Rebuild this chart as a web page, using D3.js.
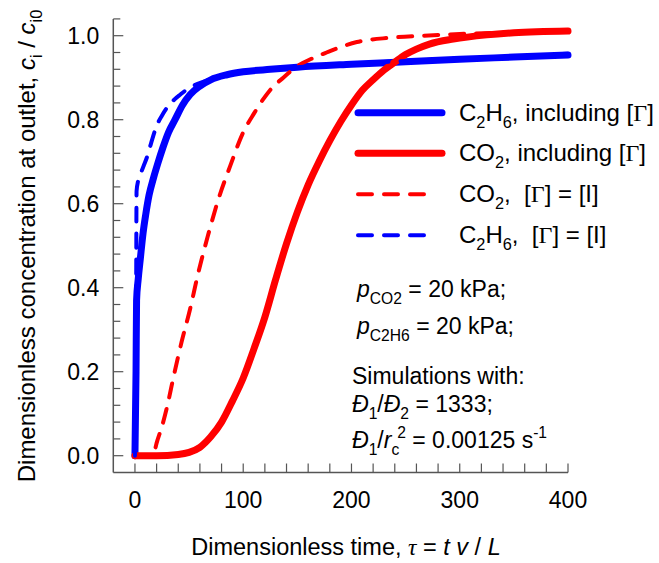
<!DOCTYPE html>
<html><head><meta charset="utf-8">
<script src="https://cdn.jsdelivr.net/npm/d3@7"></script>
<style>body{margin:0;background:#fff}svg{display:block}text{white-space:pre}</style>
</head><body>
<svg id="c" width="659" height="563"></svg>
<script>
// ---- data ----
const xMajorTicks = [0, 100, 200, 300, 400];
const xMinorTicks = d3.range(0, 401, 20);
const yMajorTicks = [0.0, 0.2, 0.4, 0.6, 0.8, 1.0];
const yMinorTicks = d3.range(0, 27).map(i => +(i * 0.04).toFixed(2));

// C2H6, including [Γ]
const c2h6FullTau = [0,1,1.5,3,5,7.5,10,13,17,21,26,31,37,44,51,60,70,85,100,125,150,200,250,300,350,400];
const c2h6FullC   = [0,0.2,0.37,0.42,0.47,0.53,0.575,0.62,0.66,0.695,0.735,0.77,0.80,0.835,0.86,0.88,0.895,0.907,0.914,0.92,0.925,0.932,0.938,0.944,0.949,0.954];
// CO2, including [Γ]
const co2FullTau = [0,20,40,50,60,70,80,90,100,110,120,130,140,150,160,170,180,190,200,210,220,230,240,250,260,272,294,325,350,400];
const co2FullC   = [0,0,0.003,0.008,0.02,0.045,0.08,0.13,0.185,0.255,0.33,0.42,0.505,0.58,0.645,0.70,0.75,0.795,0.835,0.87,0.895,0.918,0.937,0.955,0.968,0.98,0.992,1.002,1.007,1.011];
// CO2, [Γ] = [I]
const co2IdTau = [0,15,18,20,25,30,35,43,51,58,67,77,88,100,110,118,127,137,149,163,177,205,235,266,300,350,400];
const co2IdC   = [0,0,0.01,0.03,0.07,0.12,0.18,0.27,0.35,0.43,0.52,0.61,0.69,0.77,0.815,0.847,0.877,0.90,0.926,0.945,0.96,0.985,0.995,1.0,1.004,1.008,1.01];
// C2H6, [Γ] = [I]
const c2h6IdTau = [0,1,1.5,3,5,8,11,15,20,25,30,36,42,48,55,65,80,100,150,200,250,300,350,400];
const c2h6IdC   = [0,0.3,0.63,0.655,0.67,0.69,0.71,0.745,0.785,0.81,0.83,0.847,0.86,0.872,0.882,0.892,0.903,0.912,0.925,0.933,0.94,0.946,0.951,0.957];

const seriesColors = ["#0000ff", "#ff0000", "#ff0000", "#0000ff"];

// ---- layout ----
const FONT = "'Liberation Sans', Arial, sans-serif";
const SERIF = "'Liberation Serif', 'Times New Roman', serif";
const svg = d3.select("#c");
const x = d3.scaleLinear().domain([-20, 400]).range([113.3, 568]);
const y = d3.scaleLinear().domain([-0.04, 1.04]).range([472.5, 18.9]);
const axisColor = "#555";

// axes
const gx = svg.append("g").attr("transform", `translate(0,${y(-0.04)})`);
gx.append("line").attr("x1", x(-20)).attr("x2", x(400)).attr("stroke", axisColor).attr("stroke-width", 1.5);
gx.selectAll("line.t").data(xMinorTicks).join("line").attr("class","t")
  .attr("x1", d => x(d)).attr("x2", d => x(d)).attr("y1", 0).attr("y2", -9)
  .attr("stroke", axisColor).attr("stroke-width", 1.2);
gx.selectAll("text").data(xMajorTicks).join("text")
  .attr("x", d => x(d)).attr("y", 35).attr("text-anchor", "middle")
  .attr("font-family", FONT).attr("font-size", 23).attr("fill", "#000").text(d => d);

const gy = svg.append("g").attr("transform", `translate(${x(-20)},0)`);
gy.append("line").attr("y1", y(-0.04)).attr("y2", y(1.04)).attr("stroke", axisColor).attr("stroke-width", 1.5);
gy.selectAll("line.t").data(yMinorTicks).join("line").attr("class","t")
  .attr("y1", d => y(d)).attr("y2", d => y(d)).attr("x1", 0)
  .attr("x2", d => yMajorTicks.some(m => Math.abs(m - d) < 1e-6) ? 10 : 7)
  .attr("stroke", axisColor).attr("stroke-width", 1.2);
gy.selectAll("text").data(yMajorTicks).join("text")
  .attr("x", -14).attr("y", d => y(d)).attr("dy", "0.35em").attr("text-anchor", "end")
  .attr("font-family", FONT).attr("font-size", 23).attr("fill", "#000").text(d => d.toFixed(1));

// rich text helper
function rich(sel, parts, size) {
  let off = 0;
  parts.forEach(p => {
    const t = sel.append("tspan").text(p.t);
    let target = 0, fs = size;
    if (p.sub) { target = size * 0.3; fs = size * 0.68; }
    if (p.sup) { target = -size * 0.42; fs = size * 0.68; }
    if (target - off !== 0) t.attr("dy", target - off);
    off = target;
    t.attr("font-size", fs);
    if (p.dx) t.attr("dx", p.dx);
    if (p.i) t.attr("font-style", "italic");
    if (p.serif) t.attr("font-family", SERIF);
  });
}

// curves
const line = d3.line().x(d => x(d[0])).y(d => y(d[1])).curve(d3.curveMonotoneX);
const zipS = (a, b) => a.map((v, i) => [v, b[i]]);
const plotData = [
  {pts: zipS(c2h6FullTau, c2h6FullC), color: seriesColors[0], w: 7, dash: null},
  {pts: zipS(co2FullTau, co2FullC), color: seriesColors[1], w: 7, dash: null},
  {pts: zipS(co2IdTau, co2IdC), color: seriesColors[2], w: 4, dash: "14,12"},
  {pts: zipS(c2h6IdTau, c2h6IdC), color: seriesColors[3], w: 4, dash: "14,12"},
];
svg.append("g").selectAll("path").data(plotData).join("path")
  .attr("d", d => line(d.pts)).attr("fill", "none")
  .attr("stroke", d => d.color).attr("stroke-width", d => d.w)
  .attr("stroke-linecap", "round").attr("stroke-linejoin", "round")
  .attr("stroke-dasharray", d => d.dash);

// legend
const legendRows = [
  {y: 112.7, color: seriesColors[0], w: 7, dash: null, x2: 442,
   parts: [{t:"C"},{t:"2",sub:true},{t:"H"},{t:"6",sub:true},{t:", including ["},{t:"Γ",serif:true},{t:"]"}]},
  {y: 153.3, color: seriesColors[1], w: 7, dash: null, x2: 442,
   parts: [{t:"CO"},{t:"2",sub:true},{t:", including ["},{t:"Γ",serif:true},{t:"]"}]},
  {y: 194.3, color: seriesColors[2], w: 4, dash: "14,12", x2: 430,
   parts: [{t:"CO"},{t:"2",sub:true},{t:",  ["},{t:"Γ",serif:true},{t:"] = [I]"}]},
  {y: 235.3, color: seriesColors[3], w: 4, dash: "14,12", x2: 430,
   parts: [{t:"C"},{t:"2",sub:true},{t:"H"},{t:"6",sub:true},{t:",  ["},{t:"Γ",serif:true},{t:"] = [I]"}]},
];
const lg = svg.append("g");
legendRows.forEach(r => {
  lg.append("line").attr("x1", 358).attr("x2", r.x2).attr("y1", r.y).attr("y2", r.y)
    .attr("stroke", r.color).attr("stroke-width", r.w).attr("stroke-linecap", "round")
    .attr("stroke-dasharray", r.dash);
  const t = lg.append("text").attr("x", 459).attr("y", r.y + 7.8)
    .attr("font-family", FONT).attr("font-size", 24).attr("fill", "#000");
  rich(t, r.parts, 24);
});

// annotations
const notes = [
  {x: 357, y: 297, parts: [{t:"p",i:true},{t:"CO2",sub:true},{t:" = 20 kPa;"}]},
  {x: 357, y: 334, parts: [{t:"p",i:true},{t:"C2H6",sub:true},{t:" = 20 kPa;"}]},
  {x: 352, y: 384, parts: [{t:"Simulations with:"}]},
  {x: 352, y: 412, parts: [{t:"Đ",i:true},{t:"1",sub:true},{t:"/"},{t:"Đ",i:true},{t:"2",sub:true},{t:" = 1333;"}]},
  {x: 352, y: 448, parts: [{t:"Đ",i:true},{t:"1",sub:true},{t:"/"},{t:"r",i:true},{t:"c",sub:true},{t:"2",sup:true,dx:-2},{t:" = 0.00125 s"},{t:"-1",sup:true}]},
];
notes.forEach(n => {
  const t = svg.append("text").attr("x", n.x).attr("y", n.y)
    .attr("font-family", FONT).attr("font-size", 23).attr("fill", "#000");
  rich(t, n.parts, 23);
});

// axis titles
const xt = svg.append("text").attr("x", 346).attr("y", 555).attr("text-anchor", "middle")
  .attr("font-family", FONT).attr("font-size", 23.5).attr("fill", "#000");
rich(xt, [{t:"Dimensionless time, "},{t:"τ",i:true,serif:true},{t:" = "},{t:"t v",i:true},{t:" / "},{t:"L",i:true}], 23.5);

const yt = svg.append("text").attr("transform", "translate(35,246) rotate(-90)").attr("text-anchor", "middle")
  .attr("font-family", FONT).attr("font-size", 24).attr("fill", "#000");
rich(yt, [{t:"Dimensionless concentration at outlet, "},{t:"c",i:true},{t:"i",sub:true},{t:" / "},{t:"c",i:true},{t:"i0",sub:true}], 24);
</script>
</body></html>
